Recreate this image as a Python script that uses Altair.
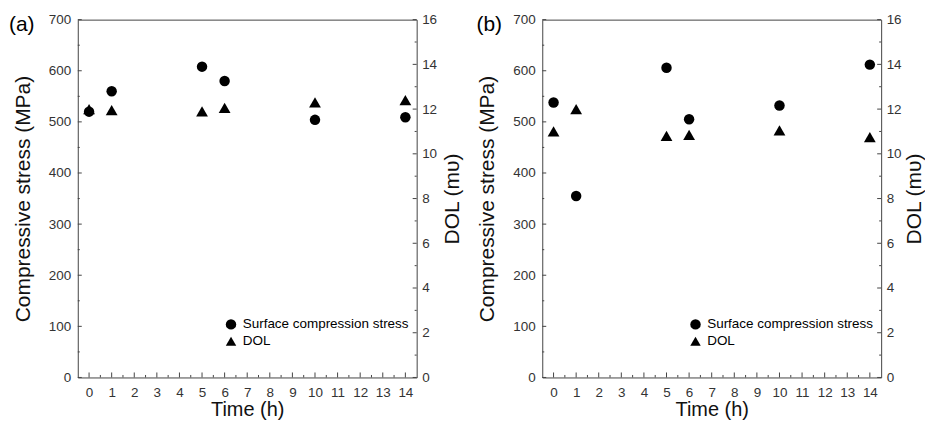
import altair as alt
import pandas as pd

# ---- data ----
time_h = [0, 1, 5, 6, 10, 14]
stress_a = [520, 560, 608, 580, 504, 509]
dol_a = [12.0, 11.95, 11.9, 12.05, 12.3, 12.4]
stress_b = [538, 355, 606, 505, 532, 612]
dol_b = [11.0, 12.0, 10.8, 10.85, 11.05, 10.75]

x_major = list(range(0, 15))
x_minor = [i + 0.5 for i in range(14)]
stress_major = list(range(0, 701, 100))
stress_minor = list(range(50, 700, 100))
dol_major = list(range(0, 17, 2))
dol_minor = list(range(1, 16, 2))

series_names = ["Surface compression stress", "DOL"]
panel_labels = ["(a)", "(b)"]

W, H = 340, 359
FONT = "Liberation Sans"
AX = "#444444"
LBL = "#333333"


def panel(label, stress, dol, tag_x, right_title_pad):
    xs = alt.Scale(domain=[-0.5, 14.5], nice=False, zero=False)
    ys = alt.Scale(domain=[0, 700], nice=False)
    ds = alt.Scale(domain=[0, 16], nice=False)
    shape_scale = alt.Scale(domain=series_names, range=["circle", "triangle-up"])

    xaxis = alt.Axis(title="Time (h)", values=x_major, labelPadding=8, titlePadding=1,
                     titleFontSize=20, labelFlush=False, format="d")
    df_s = pd.DataFrame({"t": time_h, "v": stress, "series": series_names[0]})
    df_d = pd.DataFrame({"t": time_h, "v": dol, "series": series_names[1]})

    legend = alt.Legend(title=None, orient="none", legendX=147, legendY=299,
                        symbolSize=110, symbolFillColor="black", symbolStrokeColor="black",
                        labelFont=FONT, labelFontSize=13.5, labelColor="black", labelLimit=0,
                        rowPadding=1, labelOffset=5, padding=0)

    circles = alt.Chart(df_s).mark_point(filled=True, color="black", opacity=1, size=110).encode(
        x=alt.X("t:Q", scale=xs, axis=xaxis),
        y=alt.Y("v:Q", scale=ys,
                axis=alt.Axis(title="Compressive stress (MPa)", orient="left",
                              values=stress_major, labelPadding=7, titlePadding=15, format="d")),
        shape=alt.Shape("series:N", scale=shape_scale, legend=legend),
    )
    tris = alt.Chart(df_d).mark_point(filled=True, color="black", opacity=1, size=140).encode(
        x=alt.X("t:Q", scale=xs, axis=xaxis),
        y=alt.Y("v:Q", scale=ds,
                axis=alt.Axis(title="DOL (mυ)", orient="right", values=dol_major,
                              labelPadding=5, titlePadding=right_title_pad, titleAngle=270,
                              titleBaseline="top", format="d")),
        shape=alt.Shape("series:N", scale=shape_scale, legend=legend),
    )

    def xticks(vals, length):
        return alt.Chart(pd.DataFrame({"t": vals})).mark_rule(color=AX, strokeWidth=1).encode(
            x=alt.X("t:Q", scale=xs, axis=xaxis), y=alt.value(H), y2=alt.value(H - length))

    def lticks(vals, length):
        return alt.Chart(pd.DataFrame({"v": vals})).mark_rule(color=AX, strokeWidth=1).encode(
            y=alt.Y("v:Q", scale=ys, axis=None), x=alt.value(0), x2=alt.value(length))

    def rticks(vals, length):
        return alt.Chart(pd.DataFrame({"v": vals})).mark_rule(color=AX, strokeWidth=1).encode(
            y=alt.Y("v:Q", scale=ds, axis=None), x=alt.value(W - length), x2=alt.value(W))

    tag = alt.Chart(pd.DataFrame({"lab": [label]})).mark_text(
        font=FONT, fontSize=21, color="black", align="left", baseline="middle").encode(
        text="lab:N", x=alt.value(tag_x), y=alt.value(5))

    return alt.layer(
        circles, tris,
        xticks(x_major, 5), xticks(x_minor, 2.5),
        lticks(stress_major, 4), lticks(stress_minor, 2),
        rticks(dol_major, 4), rticks(dol_minor, 2),
        tag,
    ).resolve_scale(y="independent").properties(width=W, height=H)


pa = panel(panel_labels[0], stress_a, dol_a, -69, 5)
pb = panel(panel_labels[1], stress_b, dol_b, -66, 2)

chart = alt.hconcat(pa, pb, spacing=12).resolve_scale(shape="independent").resolve_legend(
    shape="independent"
).properties(
    padding={"left": 0, "top": 3, "right": 0, "bottom": 0}
).configure_view(
    stroke=AX, strokeWidth=1
).configure_axis(
    labelFont=FONT, labelFontSize=13.5, labelColor=LBL,
    titleFont=FONT, titleFontSize=21, titleFontWeight="normal", titleColor="#111111",
    ticks=False, tickSize=0, domain=False, grid=False,
)

chart.save("out.html", embed_options={"renderer": "svg", "actions": False})
